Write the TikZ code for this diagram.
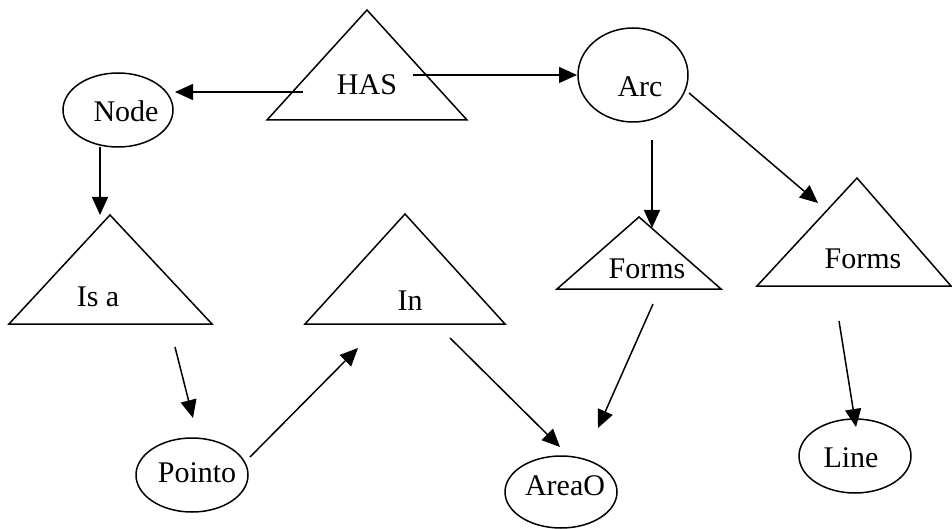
\documentclass[tikz,border=0pt]{standalone}
\usepackage{fontspec}
\setmainfont{Liberation Serif}
\usetikzlibrary{arrows.meta,shapes.geometric}

\begin{document}
\begin{tikzpicture}[x=1pt,y=-1pt,
  line width=1.5pt, line join=miter,
  oval/.style={draw, ellipse, inner sep=0pt},
  lbl/.style={anchor=base, inner sep=0pt, font=\fontsize{30}{34}\selectfont},
  link/.style={-{Triangle[length=18pt,width=16pt]}}
]
\useasboundingbox (0,0) rectangle (952,529);

% relation triangles
\draw (267,120) -- (367,10) -- (467,120) -- cycle;
\draw (9,324) -- (110,215) -- (212,324) -- cycle;
\draw (305,324) -- (405,214) -- (505,324) -- cycle;
\draw (557,289) -- (639,217) -- (721,289) -- cycle;
\draw (757,286) -- (857,178) -- (951,286) -- cycle;

% entity ellipses
\node[oval, minimum width=110pt, minimum height=74pt] (node) at (118,110) {};
\node[oval, minimum width=110pt, minimum height=94pt] (arc) at (633,75) {};
\node[oval, minimum width=112pt, minimum height=74pt] (pointo) at (192,475) {};
\node[oval, minimum width=112pt, minimum height=72pt] (areao) at (561,492) {};
\node[oval, minimum width=112pt, minimum height=74pt] (line) at (855,456) {};

% labels
\node[lbl] (has)   at (367,95)  {HAS};
\node[lbl] (isa)   at (98,306)  {Is a};
\node[lbl] (in)    at (410,310) {In};
\node[lbl] (forma) at (647,278) {Forms};
\node[lbl] (formb) at (863,268) {Forms};
\node[lbl] (nodet) at (126,122) {Node};
\node[lbl] (arct)  at (640,97)  {Arc};
\node[lbl] (pointot) at (197,482) {Pointo};
\node[lbl] (areaot)  at (565,495) {AreaO};
\node[lbl] (linet)   at (851,467) {Line};

% connector end points
\coordinate (hasL) at (303,92);
\coordinate (nodeR) at (175,92);
\coordinate (hasR) at (413,75);
\coordinate (arcL) at (577,75);
\coordinate (nodeB) at (100,147);
\coordinate (isaT) at (100,215);
\coordinate (arcB) at (652,140);
\coordinate (formaT) at (652,228);
\coordinate (arcR) at (689,93);
\coordinate (formbT) at (818,203);
\coordinate (isaB) at (175,347);
\coordinate (pointoT) at (193,418);
\coordinate (pointoR) at (250,457);
\coordinate (inL) at (358,348);
\coordinate (inB) at (450,338);
\coordinate (areaoL) at (560,447);
\coordinate (formaB) at (653,304);
\coordinate (areaoR) at (598,428);
\coordinate (formbB) at (839,321);
\coordinate (lineT) at (856,427);

% connectors
\draw[link] (hasL) -- (nodeR);
\draw[link] (hasR) -- (arcL);
\draw[link] (nodeB) -- (isaT);
\draw[link] (arcB) -- (formaT);
\draw[link] (arcR) -- (formbT);
\draw[link] (isaB) -- (pointoT);
\draw[link] (pointoR) -- (inL);
\draw[link] (inB) -- (areaoL);
\draw[link] (formaB) -- (areaoR);
\draw[link] (formbB) -- (lineT);
\end{tikzpicture}
\end{document}
